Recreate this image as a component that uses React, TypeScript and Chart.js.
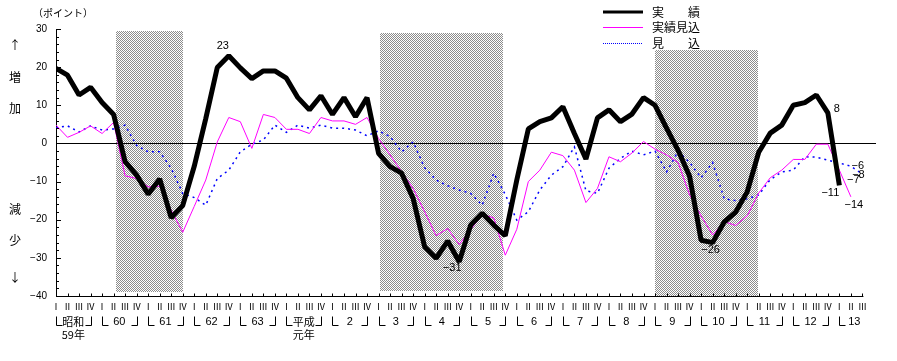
import React, { useEffect, useRef } from 'react';
import { Chart, registerables } from 'chart.js';

Chart.register(...registerables);

// ---- categories (quarters) ----
const yearLabels = ['昭和', '60', '61', '62', '63', '平成', '2', '3', '4', '5', '6', '7', '8', '9', '10', '11', '12', '13'];
const yearSubLabels = ['59年', '', '', '', '', '元年', '', '', '', '', '', '', '', '', '', '', '', ''];
const quarterNames = ['Ⅰ', 'Ⅱ', 'Ⅲ', 'Ⅳ'];
const lastYearQuarters = 3;

// ---- series (ポイント) ----
const actual = [
  19.7, 17.9, 12.7, 14.7, 10.7, 7.6, -4.8, -8.3, -13.3, -9.3, -19.5, -16.3,
  -6, 6.5, 19.9, 23, 19.8, 17, 19, 19, 17.1, 12, 8.8, 12.5,
  7.6, 12, 7, 12, -2.6, -6.1, -7.8, -14.4, -27.1, -30.1, -25.6, -31,
  -21.4, -18.3, -21.4, -24.2, -9.6, 3.8, 5.7, 6.7, 9.6, 2.6, -4.1, 6.7,
  8.8, 5.7, 7.7, 12, 10, 4, -1.8, -8.6, -25.4, -26, -20.6, -18,
  -12.7, -2.3, 2.7, 4.8, 10, 10.7, 12.7, 8, -11,
];
const actualEstimate = [
  4.8, 1.6, 2.9, 4.6, 2.6, 5.5, -8.5, -9.2, -11.4, -11.2, -17.5, -23.3,
  -16.5, -9.6, 0.4, 6.8, 5.7, -1.3, 7.6, 6.8, 3.7, 3.7, 2.6, 6.8,
  5.9, 5.9, 5, 6.8, 1.3, -3, -7.4, -11.8, -17.9, -24.2, -22.3, -26.5,
  -22.6, -18.6, -19.5, -29.3, -22.5, -10, -7, -2.3, -3.2, -7, -15.5, -11.8,
  -3.5, -4.8, -2.5, 0.5, -1.5, -3, -5, -13.5, -19, -24, -20.5, -21.5,
  -19, -13, -9, -7, -4.2, -4.2, -0.2, -0.2, -7, -14,
];
const forecast = [
  4.1, 4.6, 3, 4.6, 3.5, 3.8, 4.8, -0.5, -2.2, -2.2, -6.5, -13.1,
  -14.2, -16.2, -9.2, -7, -2.2, -0.2, 0.9, 4.8, 2.9, 4.8, 4, 4.8,
  4, 4, 3.5, 2, 3.3, 1.8, -2.2, 0.4, -6.4, -9.6, -11.1, -12.2,
  -13.1, -16.2, -7.8, -13.4, -20.1, -17.9, -12.2, -8.3, -6.1, -0.9, -12.4, -13.1,
  -6.5, -3.9, -2, -3, -2, -7.5, -2, -5, -9, -5, -14.5, -15,
  -14.5, -13.5, -9.5, -7.5, -7, -3.5, -3.6, -4.4, -5.1, -6, -8,
];

// 景気後退期 (quarter index from / to, band top / bottom in points)
const recessionFrom = [5.2, 28.1, 52.0];
const recessionTo = [11.0, 38.8, 60.9];
const recessionTop = [29.5, 28.9, 24.5];
const recessionBottom = [-39, -38.7, -40];

const yTickMin = -40;
const yTickMax = 30;

const seriesNames = ['実　　績', '実績見込', '見　　込'];

// value labels
const valueLabels = [
  { series: 0, index: 15, text: '23', dx: -6, dy: -10 },
  { series: 0, index: 35, text: '−31', dx: -7, dy: 6 },
  { series: 0, index: 57, text: '−26', dx: -2, dy: 7 },
  { series: 0, index: 67, text: '8', dx: 9, dy: -4 },
  { series: 0, index: 68, text: '−11', dx: -9, dy: 8 },
  { series: 1, index: 68, text: '−7', dx: 14, dy: 10 },
  { series: 1, index: 69, text: '−14', dx: 3, dy: 8 },
  { series: 2, index: 69, text: '−6', dx: 7, dy: 0 },
  { series: 2, index: 70, text: '−8', dx: -4, dy: 1 },
];

const categories: string[] = [];
yearLabels.forEach((_, yi) => {
  const n = yi === yearLabels.length - 1 ? lastYearQuarters : 4;
  for (let q = 0; q < n; q++) categories.push(quarterNames[q]);
});

const seriesData = [actual, actualEstimate, forecast];

function makePattern(ctx: CanvasRenderingContext2D) {
  const c = document.createElement('canvas');
  c.width = 2;
  c.height = 2;
  const p = c.getContext('2d')!;
  p.fillStyle = '#ffffff';
  p.fillRect(0, 0, 2, 2);
  p.fillStyle = '#8c8c8c';
  p.fillRect(0, 0, 1, 1);
  p.fillRect(1, 1, 1, 1);
  return ctx.createPattern(c, 'repeat')!;
}

const JP = '"Noto Sans CJK JP", "Noto Sans", sans-serif';
const NUM = '"Liberation Sans", Arial, sans-serif';

const decorPlugin = {
  id: 'decor',
  beforeDraw(chart: any) {
    const { ctx, scales } = chart;
    const x = scales.x;
    const y = scales.y;
    ctx.save();
    ctx.fillStyle = makePattern(ctx);
    recessionFrom.forEach((f, i) => {
      const x0 = Math.round(x.getPixelForValue(f));
      const x1 = Math.round(x.getPixelForValue(recessionTo[i]));
      const y0 = Math.round(y.getPixelForValue(recessionTop[i]));
      const y1 = Math.round(y.getPixelForValue(recessionBottom[i]));
      ctx.fillRect(x0, y0, x1 - x0, y1 - y0);
    });
    ctx.restore();
  },
  afterDraw(chart: any) {
    const { ctx, chartArea: a, scales } = chart;
    const x = scales.x;
    const y = scales.y;
    ctx.save();
    ctx.strokeStyle = '#000';
    ctx.fillStyle = '#000';
    ctx.lineWidth = 1;

    // bottom axis
    const yb = Math.round(y.getPixelForValue(yTickMin)) + 0.5;
    const xEnd = x.getPixelForValue(categories.length - 1) + 1;
    ctx.beginPath();
    ctx.moveTo(a.left, yb);
    ctx.lineTo(xEnd, yb);
    categories.forEach((_, i) => {
      const px = Math.round(x.getPixelForValue(i)) + 0.5;
      ctx.moveTo(px, yb);
      ctx.lineTo(px, yb - 3);
    });
    // y minor ticks
    for (let v = yTickMin; v <= yTickMax; v += 2) {
      const py = Math.round(y.getPixelForValue(v)) + 0.5;
      const len = v % 10 === 0 ? 5 : 3;
      ctx.moveTo(a.left, py);
      ctx.lineTo(a.left + len, py);
    }
    ctx.stroke();

    // quarter labels
    ctx.textAlign = 'center';
    ctx.textBaseline = 'middle';
    ctx.font = `9px ${JP}`;
    categories.forEach((c, i) => {
      ctx.fillText(c, x.getPixelForValue(i), yb + 10);
    });

    // year labels with brackets
    let start = 0;
    ctx.beginPath();
    yearLabels.forEach((lab, yi) => {
      const n = yi === yearLabels.length - 1 ? lastYearQuarters : 4;
      const xl = Math.round(x.getPixelForValue(start)) + 0.5;
      ctx.moveTo(xl, yb + 20);
      ctx.lineTo(xl, yb + 29);
      ctx.lineTo(xl + 6, yb + 29);
      if (n === 4) {
        const xr = Math.round(x.getPixelForValue(start + 3)) + 0.5;
        ctx.moveTo(xr, yb + 20);
        ctx.lineTo(xr, yb + 29);
        ctx.lineTo(xr - 6, yb + 29);
      }
      const cx = x.getPixelForValue(start + (n === 4 ? 1.5 : 1.3));
      ctx.font = `11px ${/\d/.test(lab) ? NUM : JP}`;
      ctx.fillText(lab, cx, yb + 25);
      if (yearSubLabels[yi]) {
        ctx.font = `11px ${JP}`;
        ctx.fillText(yearSubLabels[yi], x.getPixelForValue(start + 1.5), yb + 38);
      }
      start += n;
    });
    ctx.stroke();

    // value labels
    ctx.font = `11px ${NUM}`;
    valueLabels.forEach((l) => {
      const v = seriesData[l.series][l.index];
      ctx.fillText(l.text, x.getPixelForValue(l.index) + l.dx, y.getPixelForValue(v) + l.dy);
    });

    // unit + side labels
    ctx.font = `10px ${JP}`;
    ctx.fillText('（ポイント）', 63, 13);
    ctx.font = `12px ${JP}`;
    const side: [string, number][] = [['↑', 45], ['増', 77], ['加', 108], ['減', 209], ['少', 240], ['↓', 277]];
    side.forEach(([t, py]) => ctx.fillText(t, 15, py));

    // legend
    const lx0 = 603;
    const lx1 = 643;
    const ly = [12, 27, 43];
    ctx.beginPath();
    ctx.lineWidth = 3;
    ctx.strokeStyle = '#000';
    ctx.moveTo(lx0, ly[0]);
    ctx.lineTo(lx1, ly[0]);
    ctx.stroke();
    ctx.beginPath();
    ctx.lineWidth = 1;
    ctx.strokeStyle = '#ff00ff';
    ctx.moveTo(lx0, ly[1] + 0.5);
    ctx.lineTo(lx1, ly[1] + 0.5);
    ctx.stroke();
    ctx.beginPath();
    ctx.strokeStyle = '#0000ff';
    ctx.setLineDash([1, 1]);
    ctx.moveTo(lx0, ly[2] + 0.5);
    ctx.lineTo(lx1, ly[2] + 0.5);
    ctx.stroke();
    ctx.setLineDash([]);
    ctx.textAlign = 'left';
    ctx.font = `12px ${JP}`;
    seriesNames.forEach((n, i) => ctx.fillText(n, 652, ly[i]));

    ctx.restore();
  },
};

export default function App() {
  const ref = useRef<HTMLCanvasElement | null>(null);
  useEffect(() => {
    if (!ref.current) return;
    const chart = new Chart(ref.current, {
      type: 'line',
      data: {
        datasets: [
          {
            label: seriesNames[0],
            data: actual.map((v, i) => ({ x: i, y: v })),
            borderColor: '#000000',
            borderWidth: 5,
            borderJoinStyle: 'bevel',
            pointRadius: 0,
            tension: 0,
          },
          {
            label: seriesNames[1],
            data: actualEstimate.map((v, i) => ({ x: i, y: v })),
            borderColor: '#ff00ff',
            borderWidth: 1,
            pointRadius: 0,
            tension: 0,
          },
          {
            label: seriesNames[2],
            data: forecast.map((v, i) => ({ x: i, y: v })),
            borderColor: '#0000ff',
            borderWidth: 1.5,
            borderDash: [2, 4],
            pointRadius: 0,
            tension: 0,
          },
        ],
      },
      options: {
        responsive: false,
        animation: false,
        devicePixelRatio: 1,
        layout: { padding: { top: 29, right: 21, left: 0, bottom: 0 } },
        plugins: { legend: { display: false }, tooltip: { enabled: false } },
        scales: {
          x: {
            type: 'linear',
            min: 0,
            max: 71.18,
            ticks: { display: false },
            grid: { display: false },
            border: { display: false },
            afterFit: (s: any) => {
              s.height = 65;
            },
          },
          y: {
            min: yTickMin,
            max: yTickMax,
            ticks: {
              stepSize: 10,
              color: '#000',
              padding: 9,
              font: { family: NUM, size: 10 },
              callback: (v: any) => (Number(v) < 0 ? '−' + Math.abs(Number(v)) : String(v)),
            },
            grid: {
              drawTicks: false,
              color: (c: any) => (c.tick && c.tick.value === 0 ? '#000000' : 'rgba(0,0,0,0)'),
              lineWidth: 1,
            },
            border: { display: true, color: '#000000', width: 1 },
            afterFit: (s: any) => {
              s.width = 56;
            },
          },
        },
      },
      plugins: [decorPlugin],
    });
    return () => chart.destroy();
  }, []);
  return (
    <div style={{ position: 'absolute', left: 0, top: 0, width: 897, height: 361, background: '#fff' }}>
      <canvas ref={ref} width={897} height={361} style={{ display: 'block' }} />
    </div>
  );
}
